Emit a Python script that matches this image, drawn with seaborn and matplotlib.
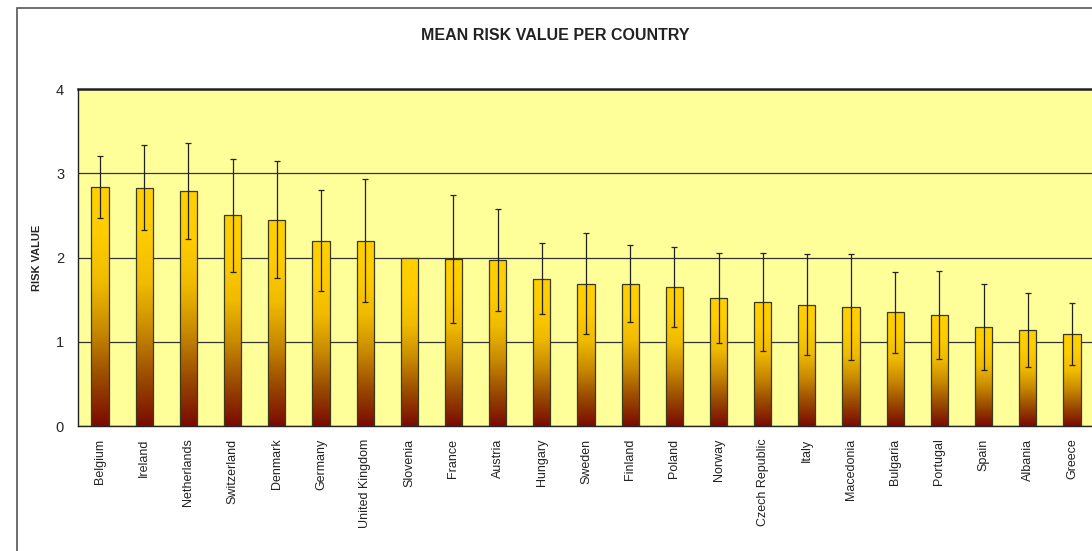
import numpy as np
import pandas as pd
import matplotlib
matplotlib.use("Agg")
import matplotlib.pyplot as plt
import seaborn as sns
from matplotlib.colors import LinearSegmentedColormap
from matplotlib.patches import Rectangle

# data
countries = ["Belgium", "Ireland", "Netherlands", "Switzerland", "Denmark", "Germany",
             "United Kingdom", "Slovenia", "France", "Austria", "Hungary", "Sweden",
             "Finland", "Poland", "Norway", "Czech Republic", "Italy", "Macedonia",
             "Bulgaria", "Portugal", "Spain", "Albania", "Greece"]
mean_risk = [2.84, 2.83, 2.79, 2.50, 2.45, 2.20, 2.20, 1.99, 1.98, 1.97, 1.75, 1.69,
             1.69, 1.65, 1.52, 1.47, 1.44, 1.41, 1.35, 1.32, 1.18, 1.14, 1.09]
risk_sd = [0.37, 0.50, 0.57, 0.67, 0.69, 0.60, 0.73, 0.0, 0.76, 0.61, 0.42, 0.60,
           0.46, 0.48, 0.53, 0.58, 0.60, 0.63, 0.48, 0.52, 0.51, 0.44, 0.37]

df = pd.DataFrame({"country": countries, "risk": mean_risk, "sd": risk_sd})

sns.set_style("white")
plt.rcParams["font.family"] = ["Liberation Sans", "DejaVu Sans"]

fig = plt.figure(figsize=(10.92, 5.51), dpi=100)
ax = fig.add_axes([78 / 1092, 125 / 551, 1016 / 1092, 337 / 551])
ax.set_facecolor("#FFFF99")

sns.barplot(data=df, x="country", y="risk", ax=ax, width=0.39,
            color="#FFCC00", edgecolor="#3a3a1a", linewidth=0.9, zorder=3)

# vertical gradient inside each bar: gold at top, dark red at bottom
cmap = LinearSegmentedColormap.from_list(
    "grad", ["#7A0A00", "#9A4A00", "#C98A00", "#F0BB00", "#FFCC00", "#FFD000"])
grad = np.linspace(0, 1, 256).reshape(-1, 1)
for p in ax.patches:
    x0, y0 = p.get_x(), p.get_y()
    w, h = p.get_width(), p.get_height()
    im = ax.imshow(grad, cmap=cmap, origin="lower", aspect="auto",
                   extent=[x0, x0 + w, y0, y0 + h], zorder=3.5)
    im.set_clip_path(p)
    p.set_facecolor("none")
    p.set_zorder(4)

# error bars (Slovenia has none)
pos = np.arange(len(countries))
has_err = df["sd"] > 0
ax.errorbar(pos[has_err], df["risk"][has_err], yerr=df["sd"][has_err], fmt="none",
            ecolor="#222222", elinewidth=0.9, capsize=2.2, capthick=0.9, zorder=5)

ax.set_xlim(-0.5, len(countries) - 0.5)
ax.set_ylim(0, 4)
ax.set_yticks([0, 1, 2, 3, 4])
ax.yaxis.grid(True, color="#333333", linewidth=0.9, zorder=1)
ax.set_axisbelow(True)

# category labels between tick marks
ax.set_xticks(pos)
ax.set_xticklabels(countries, rotation=90, fontsize=9, color="#222222")
ax.set_xticks(pos[:-1] + 0.5, minor=True)
ax.tick_params(axis="x", which="major", length=0, pad=9)
ax.tick_params(axis="x", which="minor", length=5, width=0.9, color="#333333",
               direction="out")
ax.tick_params(axis="y", length=4, width=0.9, color="#333333", direction="out",
               labelsize=10.5, pad=6)
ax.set_xlabel("")
ax.set_ylabel("RISK VALUE", fontsize=8, fontweight="bold", labelpad=10)

for s in ["left", "bottom", "top"]:
    ax.spines[s].set_color("#222222")
ax.spines["left"].set_linewidth(1.0)
ax.spines["bottom"].set_linewidth(1.0)
ax.spines["top"].set_linewidth(1.8)
ax.spines["right"].set_visible(False)

fig.text(555 / 1092, 1 - 36 / 551, "MEAN RISK VALUE PER COUNTRY", ha="center",
         va="center", fontsize=11.5, fontweight="bold", color="#222222")

# outer chart frame, cut off at right and bottom like the reference
fig.patches.append(Rectangle((17 / 1092, -0.1), 1.2, 1 - 8 / 551 + 0.1,
                             transform=fig.transFigure, fill=False,
                             edgecolor="#555555", linewidth=1.2))

fig.savefig("out.png", dpi=100)
